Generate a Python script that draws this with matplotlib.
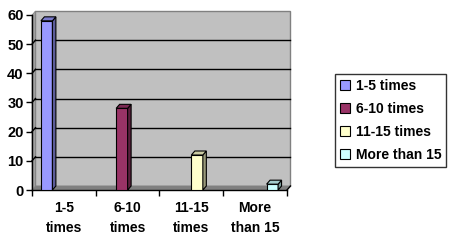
import numpy as np
import matplotlib.pyplot as plt
from matplotlib.patches import Polygon, Patch
from matplotlib.colors import to_rgb

categories = ['1-5\ntimes', '6-10\ntimes', '11-15\ntimes', 'More\nthan 15']
series = ['1-5 times', '6-10 times', '11-15 times', 'More than 15']
values = [58, 28, 12, 2]
colors = ['#9999FF', '#993366', '#FFFFCC', '#CCFFFF']

plt.rcParams['font.family'] = ['Liberation Sans', 'DejaVu Sans']
plt.rcParams['font.weight'] = 'bold'

fig = plt.figure(figsize=(4.56, 2.43), dpi=100)
ax = fig.add_axes([32/456, 1-190/243, 255/456, 175/243])
ax.set_xlim(-0.5, 3.5)
ax.set_ylim(0, 60)

# depth of the fake 3d look, in data units
dx = 3.5/64
dy = 4/2.92

# back wall and floor
ax.add_patch(Polygon([(-0.5+dx, dy), (3.5+dx, dy), (3.5+dx, 60+dy), (-0.5+dx, 60+dy)],
                     closed=True, facecolor='#C0C0C0', edgecolor='#808080', lw=1, zorder=0, clip_on=False))
ax.add_patch(Polygon([(-0.5, 0), (3.5, 0), (3.5+dx, dy), (-0.5+dx, dy)],
                     closed=True, facecolor='#808080', edgecolor='#808080', lw=0.5, zorder=1, clip_on=False))
ax.add_patch(Polygon([(-0.5, 0), (-0.5+dx, dy), (-0.5+dx, 60+dy), (-0.5, 60)],
                     closed=True, facecolor='#A0A0A0', edgecolor='#808080', lw=0.5, zorder=1, clip_on=False))
for g in range(10, 60, 10):
    ax.plot([-0.5+dx, 3.5+dx], [g+dy, g+dy], color='black', lw=1, zorder=1, clip_on=False)
    ax.plot([-0.5, -0.5+dx], [g, g+dy], color='black', lw=1, zorder=1, clip_on=False)

w = 0.18
for i, (v, c) in enumerate(zip(values, colors)):
    x0 = i + (-1.5 + i)*w - w/2
    x1 = x0 + w
    rgb = np.array(to_rgb(c))
    ax.add_patch(Polygon([(x0, 0), (x1, 0), (x1, v), (x0, v)], closed=True,
                         facecolor=c, edgecolor='black', lw=0.8, zorder=3))
    ax.add_patch(Polygon([(x1, 0), (x1+dx, dy), (x1+dx, v+dy), (x1, v)], closed=True,
                         facecolor=rgb*0.6, edgecolor='black', lw=0.8, zorder=3, clip_on=False))
    ax.add_patch(Polygon([(x0, v), (x1, v), (x1+dx, v+dy), (x0+dx, v+dy)], closed=True,
                         facecolor=rgb*0.8, edgecolor='black', lw=0.8, zorder=3, clip_on=False))

ax.plot([3.5, 3.5+dx], [0, dy], color='black', lw=1, clip_on=False, zorder=2)

for s in ['top', 'right']:
    ax.spines[s].set_visible(False)
ax.spines['left'].set_linewidth(1)
ax.spines['bottom'].set_linewidth(1)
ax.patch.set_visible(False)

ax.set_yticks(range(0, 61, 10))
ax.set_xticks([-0.5, 0.5, 1.5, 2.5, 3.5])
ax.set_xticklabels([])
ax.set_xticks(range(4), minor=True)
ax.set_xticklabels(categories, minor=True, fontsize=10, fontweight='bold', linespacing=1.5)
ax.tick_params(axis='x', which='minor', length=0, pad=8)
ax.tick_params(axis='x', which='major', length=4, direction='out', width=1)
ax.tick_params(axis='y', length=4, width=1, labelsize=10.5, pad=2)

handles = [Patch(facecolor=c, edgecolor='black', lw=0.8) for c in colors]
leg = fig.legend(handles, series, loc='upper left', bbox_to_anchor=(335/456, 1-74/243),
                 frameon=True, fancybox=False, fontsize=10, handlelength=0.7, handleheight=0.7,
                 handletextpad=0.43, labelspacing=0.65, borderpad=0.35, borderaxespad=0)
leg.get_frame().set_edgecolor('black')
leg.get_frame().set_linewidth(1)
for t in leg.get_texts():
    t.set_fontweight('bold')

fig.savefig('out.png', dpi=100)
